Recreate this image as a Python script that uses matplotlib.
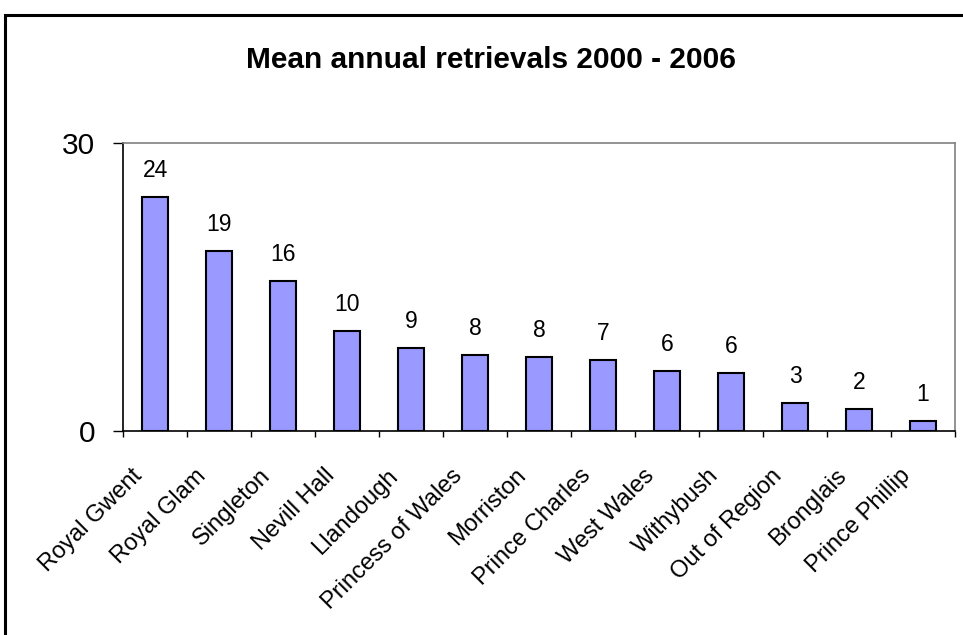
import matplotlib
matplotlib.use("Agg")
import matplotlib.pyplot as plt
import matplotlib.transforms as mtransforms
from matplotlib.patches import Rectangle
import numpy as np

categories = ["Royal Gwent", "Royal Glam", "Singleton", "Nevill Hall", "Llandough",
              "Princess of Wales", "Morriston", "Prince Charles", "West Wales",
              "Withybush", "Out of Region", "Bronglais", "Prince Phillip"]
values = [24.4, 18.8, 15.6, 10.4, 8.6, 7.9, 7.7, 7.4, 6.26, 6.05, 2.9, 2.27, 1.04]
yticks = [0, 30]
title = "Mean annual retrievals 2000 - 2006"

plt.rcParams['font.family'] = ['Liberation Sans', 'DejaVu Sans']

W, H = 963, 635
fig = plt.figure(figsize=(W / 100, H / 100), dpi=100)

# outer chart frame
fig.patches.append(Rectangle((4.5 / W, -0.1), 1.2, (H - 14.5) / H + 0.1,
                             transform=fig.transFigure, fill=False,
                             edgecolor='black', linewidth=2.2))

ax = fig.add_axes([123 / W, 1 - 431 / H, (955 - 123) / W, (431 - 143) / H])
x = np.arange(len(categories))
ax.bar(x, values, width=0.42, color='#9999FF', edgecolor='black', linewidth=1.5, zorder=3)
for xi, v in zip(x, values):
    ax.annotate(f"{round(v)}", (xi, v), xytext=(0, 14.4), textcoords='offset points',
                ha='center', va='baseline', fontsize=16.5)

ax.set_xlim(-0.5, len(categories) - 0.5)
ax.set_ylim(0, 30)
ax.set_yticks(yticks)
ax.set_yticklabels([str(t) for t in yticks], fontsize=21.5)
ax.tick_params(axis='y', direction='out', length=7, width=1, pad=13)

ax.set_xticks(x)
ax.set_xticklabels(categories, rotation=45, ha='right', va='center',
                   rotation_mode='anchor', fontsize=17)
ax.tick_params(axis='x', which='major', length=0, pad=27)
ax.set_xticks(np.arange(-0.5, len(categories)), minor=True)
ax.tick_params(axis='x', which='minor', direction='out', length=4, width=1)

shift = mtransforms.ScaledTranslation(-16 / 100, -4 / 100, fig.dpi_scale_trans)
for lbl in ax.get_xticklabels():
    lbl.set_transform(lbl.get_transform() + shift)

for s in ['top', 'right']:
    ax.spines[s].set_color('#808080')
    ax.spines[s].set_linewidth(1.2)
for s in ['left', 'bottom']:
    ax.spines[s].set_color('black')
    ax.spines[s].set_linewidth(1.2)

fig.text(491 / W, 1 - 68 / H, title, ha='center', va='baseline', fontsize=21.5, fontweight='bold')

fig.savefig("out.png", dpi=100)
